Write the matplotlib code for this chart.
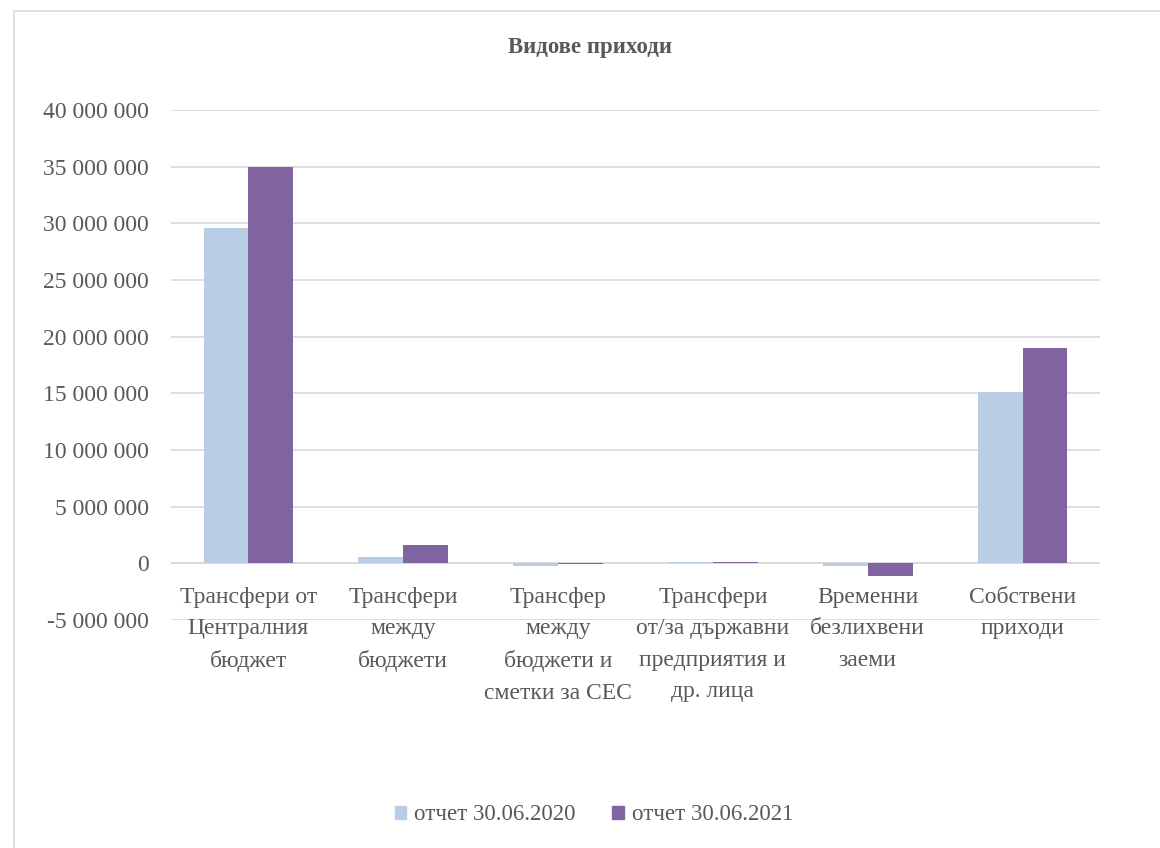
import matplotlib.pyplot as plt
import numpy as np
from matplotlib.patches import Patch, Rectangle
from matplotlib.ticker import FuncFormatter

plt.rcParams['font.family'] = ['Liberation Serif', 'DejaVu Serif']

categories = [
    'Трансфери от\nЦентралния\nбюджет',
    'Трансфери\nмежду\nбюджети',
    'Трансфер\nмежду\nбюджети и\nсметки за СЕС',
    'Трансфери\nот/за държавни\nпредприятия и\nдр. лица',
    'Временни\nбезлихвени\nзаеми',
    'Собствени\nприходи',
]
series_names = ['отчет 30.06.2020', 'отчет 30.06.2021']
values_2020 = [29600000, 530000, -200000, 100000, -200000, 15100000]
values_2021 = [35000000, 1590000, -50000, 120000, -1100000, 19000000]
colors = ['#B9CDE5', '#8064A2']

text_color = '#595959'
grid_color = '#D9D9D9'

fig = plt.figure(figsize=(11.6, 8.48), dpi=100)
# chart area border (like the Excel frame)
fig.patches.append(Rectangle((14 / 1160, -0.01), 1.02, 1 - 11 / 848 + 0.01,
                             transform=fig.transFigure, fill=False,
                             edgecolor='#D9D9D9', linewidth=1.2))
ax = fig.add_axes([171 / 1160, 1 - 620 / 848, (1100 - 171) / 1160, (620 - 110) / 848])

x = np.arange(len(categories))
w = 0.29
ax.bar(x - w / 2, values_2020, w, color=colors[0], zorder=3)
ax.bar(x + w / 2, values_2021, w, color=colors[1], zorder=3)

ax.set_xlim(-0.5, len(categories) - 0.5)
ax.set_ylim(-5000000, 40000000)
ax.set_yticks(np.arange(-5000000, 40000001, 5000000))
ax.yaxis.set_major_formatter(FuncFormatter(lambda v, p: f'{int(v):,}'.replace(',', ' ')))
ax.grid(axis='y', color=grid_color, linewidth=1.2, zorder=0)
ax.axhline(0, color=grid_color, linewidth=1.2, zorder=1)
for s in ax.spines.values():
    s.set_visible(False)
ax.tick_params(axis='y', length=0, labelsize=17, labelcolor=text_color, pad=16)
ax.set_xticks([])

# category labels sit just under the zero line
for xi, label in zip(x, categories):
    ax.annotate(label, (xi, 0), xytext=(0, -17), textcoords='offset points',
                ha='center', va='top', fontsize=17, color=text_color,
                linespacing=1.65, zorder=4)

fig.text(590 / 1160, 1 - 47 / 848, 'Видове приходи', ha='center', va='center',
         fontsize=16.5, fontweight='bold', color=text_color)

handles = [Patch(color=c) for c in colors]
fig.legend(handles, series_names, loc='center', bbox_to_anchor=(0.512, 1 - 815 / 848),
           ncol=2, frameon=False, fontsize=16.5, labelcolor=text_color,
           handlelength=0.5, handleheight=0.5, handletextpad=0.35, columnspacing=1.6)

plt.savefig('out.png', dpi=100)
